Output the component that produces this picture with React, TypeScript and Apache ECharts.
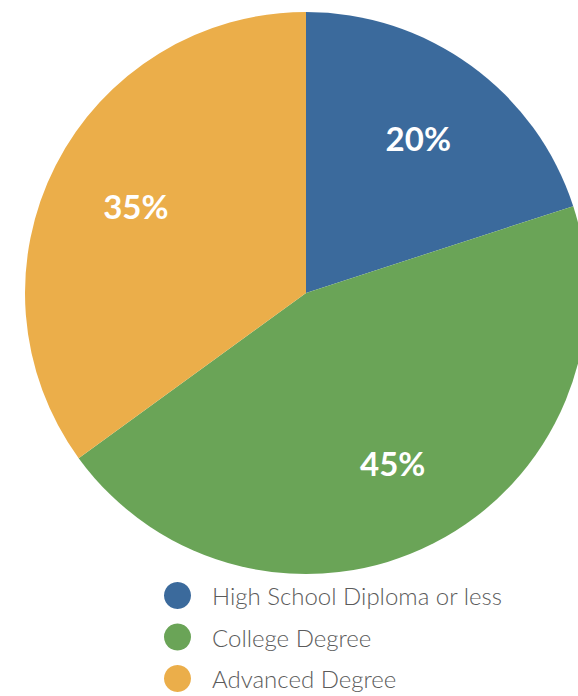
import React, { useEffect, useRef } from "react";
import * as echarts from "echarts";

const categories = ["High School Diploma or less", "College Degree", "Advanced Degree"];
const values = [20, 45, 35];
const colors = ["#3b6a9c", "#6aa457", "#ebae4a"];

export default function App() {
  const ref = useRef<HTMLDivElement>(null);
  useEffect(() => {
    const chart = echarts.init(ref.current!, null, { renderer: "svg" });
    const data = categories.map((name, i) => ({ name, value: values[i], itemStyle: { color: colors[i] } }));
    chart.setOption({
      animation: false,
      legend: {
        orient: "vertical",
        left: 164,
        top: 582,
        height: 114,
        padding: 0,
        icon: "circle",
        itemWidth: 27,
        itemHeight: 27,
        itemGap: 14.5,
        selectedMode: false,
        data: categories,
        textStyle: {
          fontFamily: "Lato",
          fontWeight: 300,
          fontSize: 24,
          color: "#5b5b5b",
          padding: [0, 0, 0, 16],
          lineHeight: 27,
        },
      },
      series: [
        {
          type: "pie",
          center: [306, 293],
          radius: [0, 281],
          startAngle: 90,
          clockwise: true,
          silent: true,
          label: { show: false },
          labelLine: { show: false },
          data,
        },
        {
          type: "pie",
          center: [306, 293],
          radius: [0, 376],
          startAngle: 90,
          clockwise: true,
          silent: true,
          legendHoverLink: false,
          itemStyle: { color: "rgba(0,0,0,0)" },
          label: {
            show: true,
            position: "inside",
            formatter: "{c}%",
            color: "#ffffff",
            fontFamily: "Lato",
            fontWeight: "bold",
            fontSize: 33,
          },
          labelLine: { show: false },
          data: categories.map((name, i) => ({ name: name + " ", value: values[i], itemStyle: { color: "rgba(0,0,0,0)" } })),
        },
      ],
    });
    return () => chart.dispose();
  }, []);
  return <div ref={ref} style={{ width: 578, height: 696, position: "absolute", left: 0, top: 0 }} />;
}
